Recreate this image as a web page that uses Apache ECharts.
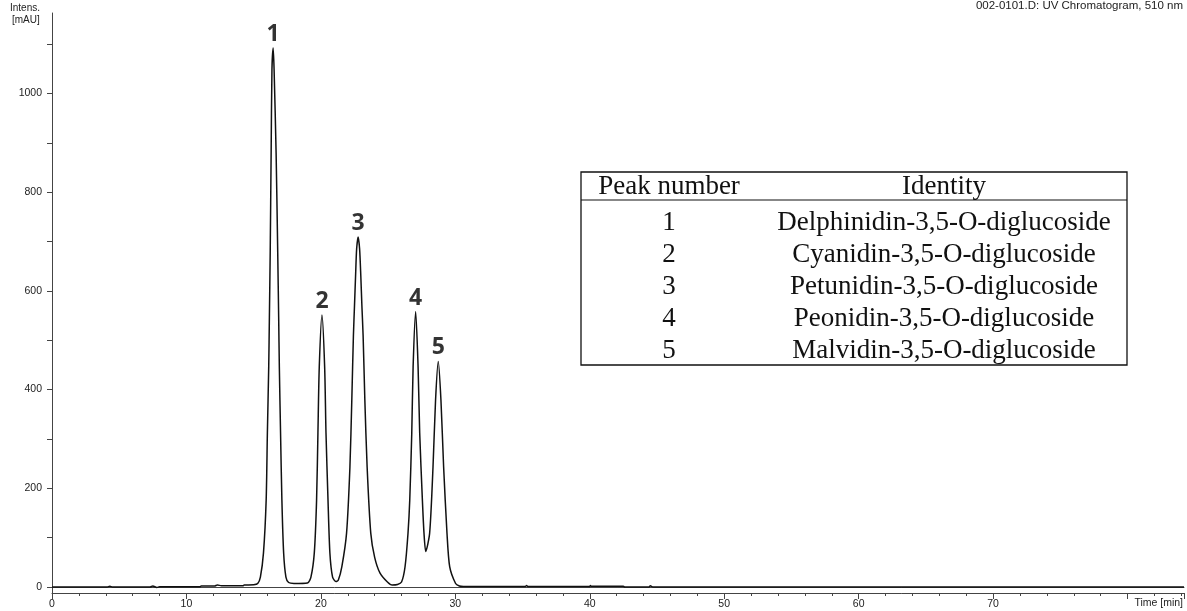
<!DOCTYPE html>
<html>
<head>
<meta charset="utf-8">
<script src="https://cdn.jsdelivr.net/npm/echarts@6/dist/echarts.min.js"></script>
<style>
  html,body{margin:0;padding:0;background:#fff}
  #chart{width:1187px;height:611px}
</style>
</head>
<body>
<div id="chart"></div>
<script>
// retention time (min) and signal (mAU)
const times = [
  0, 4.1, 4.3, 4.5, 7.3, 7.5, 7.8, 8.0, 11.0, 11.1, 12.1, 12.3, 12.6, 14.2, 14.3, 15.0, 15.3, 15.5,
  15.73, 15.93, 16.02, 16.12, 16.17, 16.23, 16.3, 16.36, 16.45, 16.52, 16.67, 16.79, 16.86, 16.91, 17.0, 17.1, 17.23, 17.4, 17.6,
  18.0, 19.0, 19.26, 19.51, 19.68, 19.78, 19.88, 20.08, 20.28, 20.38, 20.53, 20.67, 20.87, 21.12,
  21.3, 21.56, 21.91, 22.16, 22.3, 22.42, 22.5, 22.58, 22.66, 22.77, 22.88, 22.97, 23.05, 23.14, 23.27, 23.44, 23.71, 24.0, 24.4, 24.95, 25.3,
  25.7, 26.0, 26.26, 26.48, 26.61, 26.76, 26.86, 27.05, 27.23, 27.35, 27.55, 27.67, 27.8,
  28.09, 28.34, 28.53, 28.73, 28.93, 29.13, 29.38, 29.58, 30.02, 30.3, 30.6,
  35.2, 35.3, 35.4, 40.0, 40.05, 40.1, 42.5, 42.6, 44.4, 44.5, 44.7, 84.2
];
const intensity = [
  0, 0, 1.5, 0, 0, 2, -1, 0.5, 0.5, 2, 2, 4, 2.5, 2.5, 4, 4.5, 7, 20,
  69, 176, 312, 446, 547, 677, 879, 1048, 1092, 1048, 879, 677, 547, 446, 312, 176, 69, 20, 9,
  7, 8, 20, 69, 176, 312, 446, 551, 446, 312, 176, 69, 20, 11,
  14, 41, 109, 243, 379, 510, 570, 630, 685, 709, 685, 630, 570, 510, 379, 243, 109, 60, 28, 10, 4,
  5, 10, 41, 109, 176, 312, 446, 558, 446, 312, 176, 109, 72,
  109, 243, 379, 457, 379, 243, 109, 41, 7, 2, 1,
  1, 3, 1, 1, 3, 1.5, 1.5, 0, 0, 2.5, 0, 0
];

const peakNames = ['1', '2', '3', '4', '5'];
const peakTimes = [16.45, 20.08, 22.77, 27.05, 28.73];
const peakHeights = [1092, 551, 709, 558, 457];

const compounds = [
  'Delphinidin-3,5-O-diglucoside',
  'Cyanidin-3,5-O-diglucoside',
  'Petunidin-3,5-O-diglucoside',
  'Peonidin-3,5-O-diglucoside',
  'Malvidin-3,5-O-diglucoside'
];

const yTicks = [0, 100, 200, 300, 400, 500, 600, 700, 800, 900, 1000, 1100];
const yLabels = [0, 200, 400, 600, 800, 1000];

const axisColor = '#444';
const txtColor = '#222';
const sans = 'Liberation Sans, Arial, sans-serif';
const serif = 'Liberation Serif, Times New Roman, serif';

// table of peak identities, drawn as graphic
const tbl = { x: 581, y: 172, w: 546, h: 193, headH: 28, rowH: 32, col1: 669, col2: 944 };
const tblFont = '27px ' + serif;
const tableGfx = [
  { type: 'rect', shape: { x: tbl.x, y: tbl.y, width: tbl.w, height: tbl.h },
    style: { fill: '#fff', stroke: '#111', lineWidth: 1.3 }, z: 10 },
  { type: 'line', shape: { x1: tbl.x, y1: tbl.y + tbl.headH, x2: tbl.x + tbl.w, y2: tbl.y + tbl.headH },
    style: { stroke: '#111', lineWidth: 1.1 }, z: 10 },
  { type: 'text', x: tbl.col1, y: tbl.y + 15, z: 11,
    style: { text: 'Peak number', font: tblFont, fill: '#111', align: 'center', verticalAlign: 'middle' } },
  { type: 'text', x: tbl.col2, y: tbl.y + 15, z: 11,
    style: { text: 'Identity', font: tblFont, fill: '#111', align: 'center', verticalAlign: 'middle' } }
];
compounds.forEach((c, i) => {
  const cy = tbl.y + 51 + i * tbl.rowH;
  tableGfx.push({ type: 'text', x: tbl.col1, y: cy, z: 11,
    style: { text: peakNames[i], font: tblFont, fill: '#111', align: 'center', verticalAlign: 'middle' } });
  tableGfx.push({ type: 'text', x: tbl.col2, y: cy, z: 11,
    style: { text: c, font: tblFont, fill: '#111', align: 'center', verticalAlign: 'middle' } });
});

const chart = echarts.init(document.getElementById('chart'), null, { renderer: 'canvas' });
chart.setOption({
  animation: false,
  backgroundColor: '#fff',
  grid: { left: 52, right: 0, top: 13, bottom: 18 },
  xAxis: [{
    type: 'value', min: 0, max: 84.2, interval: 10,
    axisLine: { show: true, onZero: false, lineStyle: { color: axisColor, width: 1 } },
    axisTick: { show: true, inside: false, length: 6, lineStyle: { color: axisColor } },
    minorTick: { show: true, splitNumber: 5, length: 3, lineStyle: { color: axisColor } },
    axisLabel: { color: txtColor, fontFamily: sans, fontSize: 10.5, margin: 6,
      formatter: v => (v >= 80 ? '' : String(v)) },
    splitLine: { show: false }
  }, {
    type: 'value', position: 'top', min: 0, max: 84.2,
    axisLine: { show: true, lineStyle: { color: axisColor, width: 1 } },
    axisTick: { show: false }, axisLabel: { show: false }, splitLine: { show: false }
  }],
  yAxis: {
    type: 'value', min: -12.2, max: 1163,
    axisLine: { show: true, onZero: false, lineStyle: { color: axisColor, width: 1 } },
    axisTick: { show: true, length: 5, customValues: yTicks, lineStyle: { color: axisColor } },
    axisLabel: { color: txtColor, fontFamily: sans, fontSize: 10.5, margin: 10, customValues: yLabels,
      formatter: v => String(v) },
    splitLine: { show: false }
  },
  graphic: [
    { type: 'text', left: 10, top: 3,
      style: { text: 'Intens.', font: '10px ' + sans, fill: txtColor } },
    { type: 'text', left: 12, top: 15,
      style: { text: '[mAU]', font: '10px ' + sans, fill: txtColor } },
    { type: 'text', right: 4, top: 0,
      style: { text: '002-0101.D: UV Chromatogram, 510 nm', font: '11.5px ' + sans, fill: txtColor } },
    { type: 'text', right: 4, top: 598,
      style: { text: 'Time [min]', font: '10.5px ' + sans, fill: txtColor } }
  ].concat(tableGfx),
  series: [{
    type: 'line',
    data: times.map((t, i) => [t, intensity[i]]),
    showSymbol: false,
    smooth: 0.25,
    lineStyle: { color: '#111', width: 1.5 },
    z: 3
  }, {
    type: 'scatter',
    data: peakTimes.map((t, i) => ({ name: peakNames[i], value: [t, peakHeights[i]] })),
    symbolSize: 0,
    label: {
      show: true, position: 'top', distance: 2,
      formatter: p => p.name,
      fontFamily: 'Open Sans, DejaVu Sans, sans-serif', fontWeight: 'bold', fontSize: 23, color: '#000'
    },
    z: 4
  }]
});
</script>
</body>
</html>
